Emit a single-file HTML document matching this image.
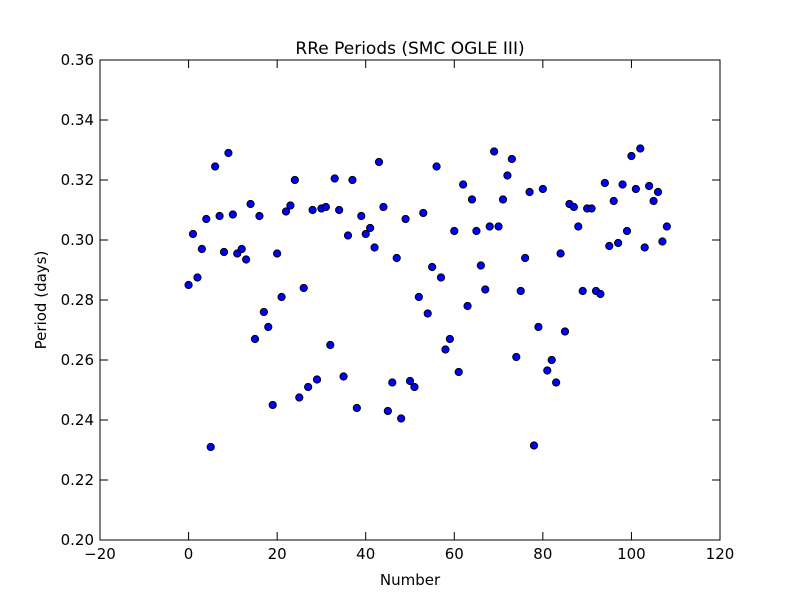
<!DOCTYPE html>
<html><head><meta charset="utf-8"><style>
body{margin:0;background:#fff}
svg text{font-family:"DejaVu Sans","Liberation Sans",sans-serif;fill:#000}
</style></head><body>
<svg id="chart" width="800" height="600" viewBox="0 0 800 600" xmlns="http://www.w3.org/2000/svg">
<rect width="800" height="600" fill="#fff"/>
<text x="410" y="54" font-size="17" text-anchor="middle">RRe Periods (SMC OGLE III)</text>
<g id="ticks"></g>
<g id="points"></g>
<rect x="100" y="60" width="620" height="480" fill="none" stroke="#000" stroke-width="1"/>
<text x="410" y="585" font-size="15" text-anchor="middle">Number</text>
<text transform="translate(46,300) rotate(-90)" font-size="15" text-anchor="middle">Period (days)</text>
</svg>
<script>
const xTicks=[-20,0,20,40,60,80,100,120];
const yTicks=[0.20,0.22,0.24,0.26,0.28,0.30,0.32,0.34,0.36];
const periods=[0.285,0.302,0.2875,0.297,0.307,0.231,0.3245,0.308,0.296,0.329,0.3085,0.2955,0.297,0.2935,0.312,0.267,0.308,0.276,0.271,0.245,0.2955,0.281,0.3095,0.3115,0.320,0.2475,0.284,0.251,0.310,0.2535,0.3105,0.311,0.265,0.3205,0.310,0.2545,0.3015,0.320,0.244,0.308,0.302,0.304,0.2975,0.326,0.311,0.243,0.2525,0.294,0.2405,0.307,0.253,0.251,0.281,0.309,0.2755,0.291,0.3245,0.2875,0.2635,0.267,0.303,0.256,0.3185,0.278,0.3135,0.303,0.2915,0.2835,0.3045,0.3295,0.3045,0.3135,0.3215,0.327,0.261,0.283,0.294,0.316,0.2315,0.271,0.317,0.2565,0.260,0.2525,0.2955,0.2695,0.312,0.311,0.3045,0.283,0.3105,0.3105,0.283,0.282,0.319,0.298,0.313,0.299,0.3185,0.303,0.328,0.317,0.3305,0.2975,0.318,0.313,0.316,0.2995,0.3045];
const NS="http://www.w3.org/2000/svg";
function xs(v){return 100+(v+20)*620/140;}
function ys(v){return 540-(v-0.20)*480/0.16;}
const tg=document.getElementById('ticks');
function mk(t,a){const e=document.createElementNS(NS,t);for(const k in a)e.setAttribute(k,a[k]);return e;}
xTicks.forEach(t=>{const x=xs(t);
 const l1=mk('line',{x1:x,x2:x,y1:540,y2:532,stroke:'#000'});
 
 tg.appendChild(l1);
 const l2=mk('line',{x1:x,x2:x,y1:60,y2:68,stroke:'#000'});
 
 tg.appendChild(l2);
 const tx=mk('text',{x:x,y:559,'font-size':15,'text-anchor':'middle'});tx.textContent=String(t).replace('-','\u2212');
 
 tg.appendChild(tx);});
yTicks.forEach(t=>{const y=ys(t);
 const l1=mk('line',{x1:100,x2:108,y1:y,y2:y,stroke:'#000'});
 
 tg.appendChild(l1);
 const l2=mk('line',{x1:712,x2:720,y1:y,y2:y,stroke:'#000'});
 
 tg.appendChild(l2);
 const tx=mk('text',{x:94,y:y+5,'font-size':15,'text-anchor':'end'});tx.textContent=t.toFixed(2);
 
 tg.appendChild(tx);});
const pg=document.getElementById('points');
periods.forEach((p,i)=>{const c=mk('circle',{cx:xs(i),cy:ys(p),r:3.6,fill:'#0000ff',stroke:'#000','stroke-width':1});
 
 pg.appendChild(c);});
</script>
</body></html>
